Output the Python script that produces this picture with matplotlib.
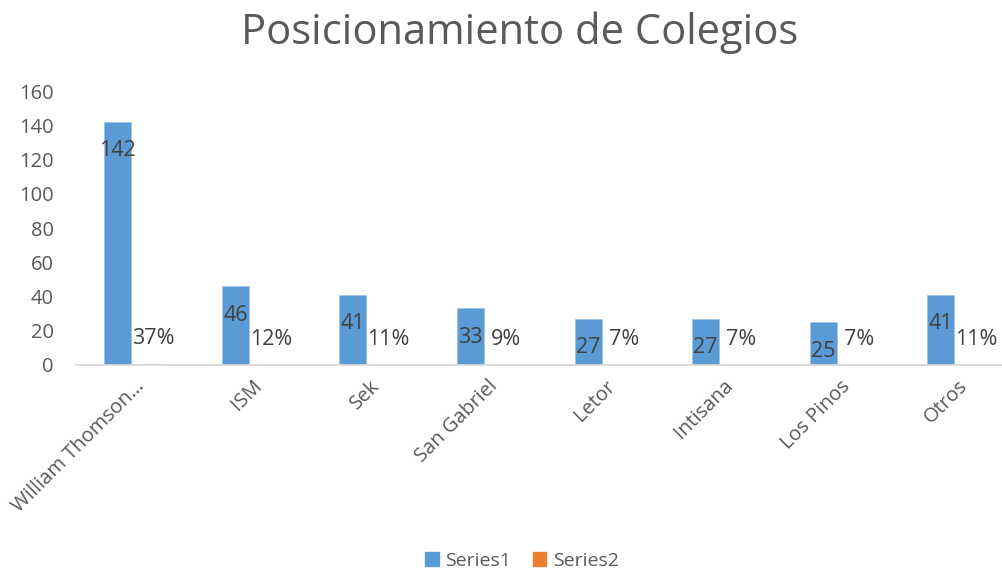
import numpy as np
import matplotlib
matplotlib.use("Agg")
import matplotlib.pyplot as plt
from matplotlib.patches import Patch

plt.rcParams['font.family'] = ['Open Sans', 'DejaVu Sans']

# data
colegios = ["William Thomson…", "ISM", "Sek", "San Gabriel", "Letor",
            "Intisana", "Los Pinos", "Otros"]
series1 = [142, 46, 41, 33, 27, 27, 25, 41]
series2 = [0.37, 0.12, 0.11, 0.09, 0.07, 0.07, 0.07, 0.11]
series2_labels = ["37%", "12%", "11%", "9%", "7%", "7%", "7%", "11%"]

blue = "#5B9BD5"
orange = "#ED7D31"
grey = "#595959"
dark = "#404040"

W, H = 1003, 570
fig = plt.figure(figsize=(W / 100, H / 100), dpi=100)
ax = fig.add_axes([76 / W, (H - 365) / H, (W - 76) / W, 274 / H])

x = np.arange(len(colegios))
bw = 0.23
b1 = ax.bar(x - 0.145, series1, width=bw, color=blue, edgecolor="#9DC3E6", linewidth=0.5)
b2 = ax.bar(x + 0.145, series2, width=bw, color=orange)

for rect, v in zip(b1, series1):
    ax.annotate(str(v), (rect.get_x() + rect.get_width() / 2, rect.get_height()),
                xytext=(0, -21), textcoords="offset points",
                ha="center", va="center", fontsize=15.5, color=dark)
for rect, lab in zip(b2, series2_labels):
    ax.annotate(lab, (rect.get_x() + rect.get_width() / 2, rect.get_height()),
                xytext=(1, 18.5), textcoords="offset points",
                ha="center", va="center", fontsize=15.5, color=dark)

ax.set_xlim(-0.5, -0.5 + (W - 76) / 117.6)
ax.set_ylim(0, 160)
ax.set_yticks(range(0, 161, 20))
ax.set_xticks(x)
ax.set_xticklabels(colegios, rotation=45, ha="right", rotation_mode="anchor")
ax.tick_params(axis="y", length=0, pad=16, labelsize=14.5, labelcolor=grey)
ax.tick_params(axis="x", length=0, pad=8, labelsize=14.5, labelcolor=grey)
for s in ["top", "right", "left"]:
    ax.spines[s].set_visible(False)
ax.spines["bottom"].set_color("#D9D9D9")
ax.spines["bottom"].set_linewidth(1.3)

fig.text(520 / W, 1 - 33 / H, "Posicionamiento de Colegios", ha="center", va="center",
         fontsize=30, color=grey)

handles = [Patch(color=blue, label="Series1"), Patch(color=orange, label="Series2")]
fig.legend(handles=handles, loc="center", bbox_to_anchor=(522 / W, 9 / H), ncol=2,
           frameon=False, fontsize=14, labelcolor=grey, handlelength=0.7,
           handleheight=0.7, handletextpad=0.35, columnspacing=1.1)

fig.savefig("out.png", dpi=100)
